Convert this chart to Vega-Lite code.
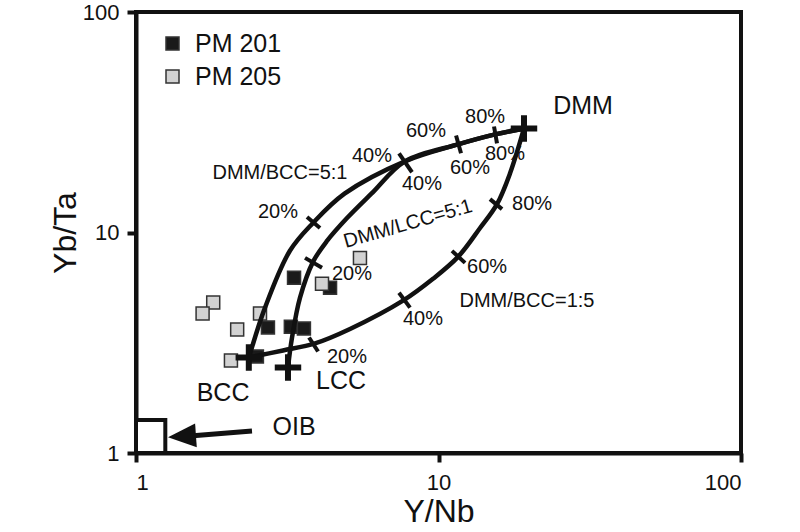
{
  "$schema": "https://vega.github.io/schema/vega-lite/v6.json",
  "width": 605,
  "height": 441,
  "autosize": {"type": "none"},
  "padding": {"left": 136, "top": 12, "right": 59, "bottom": 79},
  "background": "white",
  "datasets": {
    "samples": [
      {"series": "PM 201", "x": 3.33, "y": 6.23},
      {"series": "PM 201", "x": 4.38, "y": 5.62},
      {"series": "PM 201", "x": 2.73, "y": 3.71},
      {"series": "PM 201", "x": 3.25, "y": 3.74},
      {"series": "PM 201", "x": 3.59, "y": 3.67},
      {"series": "PM 201", "x": 2.51, "y": 2.74},
      {"series": "PM 205", "x": 1.80, "y": 4.81},
      {"series": "PM 205", "x": 1.66, "y": 4.29},
      {"series": "PM 205", "x": 2.16, "y": 3.63},
      {"series": "PM 205", "x": 2.57, "y": 4.29},
      {"series": "PM 205", "x": 2.06, "y": 2.63},
      {"series": "PM 205", "x": 4.12, "y": 5.85},
      {"series": "PM 205", "x": 5.50, "y": 7.67}
    ],
    "curves": [
      {"curve": "DMM/BCC=5:1", "i": 1, "x": 2.363, "y": 2.713},
      {"curve": "DMM/BCC=5:1", "i": 2, "x": 2.670, "y": 4.562},
      {"curve": "DMM/BCC=5:1", "i": 3, "x": 3.227, "y": 8.26},
      {"curve": "DMM/BCC=5:1", "i": 4, "x": 3.847, "y": 11.04},
      {"curve": "DMM/BCC=5:1", "i": 5, "x": 4.89, "y": 15.0},
      {"curve": "DMM/BCC=5:1", "i": 6, "x": 7.748, "y": 21.03},
      {"curve": "DMM/BCC=5:1", "i": 7, "x": 11.60, "y": 25.09},
      {"curve": "DMM/BCC=5:1", "i": 8, "x": 15.38, "y": 27.85},
      {"curve": "DMM/BCC=5:1", "i": 9, "x": 19.17, "y": 29.64},
      {"curve": "DMM/LCC=5:1", "i": 1, "x": 3.18, "y": 2.445},
      {"curve": "DMM/LCC=5:1", "i": 2, "x": 3.28, "y": 3.341},
      {"curve": "DMM/LCC=5:1", "i": 3, "x": 3.485, "y": 5.062},
      {"curve": "DMM/LCC=5:1", "i": 4, "x": 3.847, "y": 7.359},
      {"curve": "DMM/LCC=5:1", "i": 5, "x": 4.279, "y": 9.155},
      {"curve": "DMM/LCC=5:1", "i": 6, "x": 4.984, "y": 11.63},
      {"curve": "DMM/LCC=5:1", "i": 7, "x": 6.0, "y": 15.0},
      {"curve": "DMM/LCC=5:1", "i": 8, "x": 7.748, "y": 21.03},
      {"curve": "DMM/LCC=5:1", "i": 9, "x": 11.60, "y": 25.09},
      {"curve": "DMM/LCC=5:1", "i": 10, "x": 15.38, "y": 27.85},
      {"curve": "DMM/LCC=5:1", "i": 11, "x": 19.17, "y": 29.64},
      {"curve": "DMM/BCC=1:5", "i": 1, "x": 2.363, "y": 2.713},
      {"curve": "DMM/BCC=1:5", "i": 2, "x": 3.062, "y": 2.917},
      {"curve": "DMM/BCC=1:5", "i": 3, "x": 3.906, "y": 3.14},
      {"curve": "DMM/BCC=1:5", "i": 4, "x": 5.099, "y": 3.65},
      {"curve": "DMM/BCC=1:5", "i": 5, "x": 7.630, "y": 4.906},
      {"curve": "DMM/BCC=1:5", "i": 6, "x": 9.590, "y": 6.167},
      {"curve": "DMM/BCC=1:5", "i": 7, "x": 11.60, "y": 7.750},
      {"curve": "DMM/BCC=1:5", "i": 8, "x": 13.72, "y": 10.48},
      {"curve": "DMM/BCC=1:5", "i": 9, "x": 15.61, "y": 13.45},
      {"curve": "DMM/BCC=1:5", "i": 10, "x": 17.24, "y": 18.56},
      {"curve": "DMM/BCC=1:5", "i": 11, "x": 19.17, "y": 29.64}
    ],
    "ticks": [
      {"tick": "A20", "x": 3.675, "y": 11.75}, {"tick": "A20", "x": 4.058, "y": 10.48},
      {"tick": "B20", "x": 3.620, "y": 7.671}, {"tick": "B20", "x": 4.120, "y": 6.915},
      {"tick": "S40", "x": 7.403, "y": 22.86}, {"tick": "S40", "x": 8.174, "y": 18.76},
      {"tick": "S60", "x": 11.43, "y": 27.55}, {"tick": "S60", "x": 11.87, "y": 22.86},
      {"tick": "S80", "x": 15.26, "y": 30.25}, {"tick": "S80", "x": 15.61, "y": 25.36},
      {"tick": "C20", "x": 3.732, "y": 3.341}, {"tick": "C20", "x": 3.998, "y": 2.887},
      {"tick": "C40", "x": 7.403, "y": 5.333}, {"tick": "C40", "x": 8.051, "y": 4.562},
      {"tick": "C60", "x": 11.08, "y": 8.252}, {"tick": "C60", "x": 12.24, "y": 7.283},
      {"tick": "C80", "x": 14.80, "y": 14.17}, {"tick": "C80", "x": 16.22, "y": 12.77}
    ],
    "endmembers": [
      {"name": "DMM", "x": 19.17, "y": 29.64},
      {"name": "BCC", "x": 2.36, "y": 2.71},
      {"name": "LCC", "x": 3.18, "y": 2.44}
    ],
    "oib": [{"x": 1, "x2": 1.25, "y": 1, "y2": 1.41}],
    "arrow": [
      {"x": 2.418, "y": 1.257},
      {"x": 1.508, "y": 1.193}
    ],
    "arrowhead": [{"x": 1.419, "y": 1.19}],
    "smallLabels": [
      {"text": "DMM/BCC=5:1", "x": 2.992, "y": 18.56},
      {"text": "20%", "x": 2.947, "y": 12.38},
      {"text": "40%", "x": 6.028, "y": 22.15},
      {"text": "40%", "x": 8.82, "y": 16.56},
      {"text": "60%", "x": 9.093, "y": 28.72},
      {"text": "60%", "x": 12.71, "y": 19.55},
      {"text": "80%", "x": 14.25, "y": 33.57},
      {"text": "80%", "x": 16.59, "y": 22.62},
      {"text": "20%", "x": 5.176, "y": 6.494},
      {"text": "20%", "x": 4.984, "y": 2.713},
      {"text": "40%", "x": 8.887, "y": 4.069},
      {"text": "60%", "x": 14.47, "y": 6.987},
      {"text": "80%", "x": 20.38, "y": 13.45},
      {"text": "DMM/BCC=1:5", "x": 19.61, "y": 4.906}
    ],
    "rotLabels": [
      {"text": "DMM/LCC=5:1", "x": 7.93, "y": 10.93}
    ],
    "bigLabels": [
      {"text": "DMM", "x": 30.04, "y": 37.63},
      {"text": "BCC", "x": 1.94, "y": 1.866},
      {"text": "LCC", "x": 4.761, "y": 2.114},
      {"text": "OIB", "x": 3.33, "y": 1.31}
    ]
  },
  "encoding": {
    "x": {
      "field": "x", "type": "quantitative",
      "scale": {"type": "log", "domain": [1, 100], "nice": false},
      "axis": {"title": "Y/Nb", "values": [1, 10, 100], "format": "d", "titlePadding": 3, "labelPadding": 10}
    },
    "y": {
      "field": "y", "type": "quantitative",
      "scale": {"type": "log", "domain": [1, 100], "nice": false},
      "axis": {"title": "Yb/Ta", "values": [1, 10, 100], "format": "d", "titlePadding": 0, "labelPadding": 8}
    }
  },
  "layer": [
    {
      "data": {"name": "oib"},
      "mark": {"type": "rect", "fill": "white", "stroke": "#111", "strokeWidth": 4},
      "encoding": {"x2": {"field": "x2"}, "y2": {"field": "y2"}}
    },
    {
      "data": {"name": "samples"},
      "mark": {"type": "point", "shape": "square", "filled": true, "size": 169, "stroke": "#333", "strokeWidth": 1.5, "opacity": 1},
      "encoding": {
        "fill": {
          "field": "series", "type": "nominal",
          "scale": {"domain": ["PM 201", "PM 205"], "range": ["#1a1a1a", "#d2d2d2"]},
          "legend": {
            "title": null, "orient": "none", "legendX": 24, "legendY": 19,
            "symbolType": "square", "symbolSize": 169, "symbolStrokeColor": "#333", "symbolStrokeWidth": 1.5,
            "labelFont": "Liberation Sans", "labelFontSize": 25, "labelColor": "#111",
            "labelOffset": 10, "rowPadding": 7, "padding": 0
          }
        }
      }
    },
    {
      "data": {"name": "curves"},
      "mark": {"type": "line", "interpolate": "catmull-rom", "color": "#111", "strokeWidth": 4.5},
      "encoding": {"detail": {"field": "curve"}, "order": {"field": "i", "type": "quantitative"}}
    },
    {
      "data": {"name": "ticks"},
      "mark": {"type": "line", "color": "#111", "strokeWidth": 4},
      "encoding": {"detail": {"field": "tick"}}
    },
    {
      "data": {"name": "endmembers"},
      "mark": {"type": "point", "shape": "M-1,0H1M0,-1V1", "filled": false, "stroke": "#111", "strokeWidth": 6, "size": 700, "opacity": 1},
      "encoding": {}
    },
    {
      "data": {"name": "arrow"},
      "mark": {"type": "line", "color": "#111", "strokeWidth": 5},
      "encoding": {}
    },
    {
      "data": {"name": "arrowhead"},
      "mark": {"type": "point", "shape": "M-1,0L1,-0.85L1,0.85Z", "filled": true, "fill": "#111", "size": 784, "angle": -4, "opacity": 1},
      "encoding": {}
    },
    {
      "data": {"name": "smallLabels"},
      "mark": {"type": "text", "font": "Liberation Sans", "fontSize": 20, "color": "#111", "align": "center", "baseline": "middle"},
      "encoding": {"text": {"field": "text"}}
    },
    {
      "data": {"name": "rotLabels"},
      "mark": {"type": "text", "font": "Liberation Sans", "fontSize": 20, "color": "#111", "align": "center", "baseline": "middle", "angle": -16},
      "encoding": {"text": {"field": "text"}}
    },
    {
      "data": {"name": "bigLabels"},
      "mark": {"type": "text", "font": "Liberation Sans", "fontSize": 25, "color": "#111", "align": "center", "baseline": "middle"},
      "encoding": {"text": {"field": "text"}}
    }
  ],
  "config": {
    "view": {"stroke": "#111", "strokeWidth": 4},
    "axis": {
      "grid": false,
      "domainColor": "#111", "domainWidth": 4,
      "tickColor": "#111", "tickWidth": 4, "tickSize": 9,
      "labelFont": "Liberation Sans", "labelFontSize": 22, "labelColor": "#111",
      "titleFont": "Liberation Sans", "titleFontSize": 32, "titleFontWeight": "normal", "titleColor": "#111",
      "labelOverlap": false
    }
  }
}
